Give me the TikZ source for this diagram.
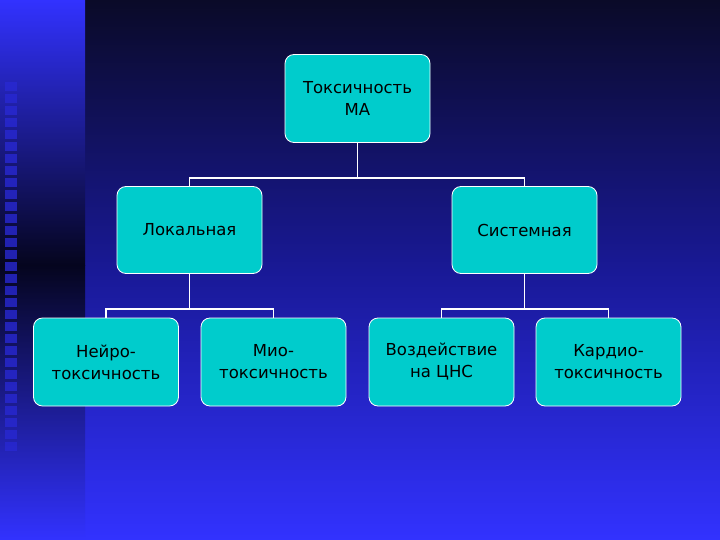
\documentclass[tikz,border=0pt]{standalone}
\usepackage{fontspec}
\setmainfont{DejaVu Sans}
\definecolor{boxc}{RGB}{0,204,204}
\definecolor{bdark}{RGB}{10,10,40}
\definecolor{bmid}{RGB}{25,25,150}
\definecolor{bbright}{RGB}{50,50,255}
\definecolor{bblack}{RGB}{5,5,30}
\definecolor{sq}{RGB}{40,40,210}
\begin{document}
\begin{tikzpicture}[x=1pt,y=-1pt,
 box/.style={draw=white,line width=0.8pt,fill=boxc,rounded corners=9pt,minimum width=145pt,minimum height=88pt,align=center,font=\fontsize{16.5}{22}\selectfont,text=black,inner sep=2pt},
 link/.style={draw=white,line width=1.5pt}]
\useasboundingbox (0,0) rectangle (720,540);
\shade[top color=bdark,bottom color=bbright,middle color=bmid] (85,0) rectangle (720,540);
\shade[top color=bbright,bottom color=bblack] (0,0) rectangle (85,265);
\shade[top color=bblack,bottom color=bbright] (0,265) rectangle (85,540);
\foreach \i in {0,...,30} \fill[sq,opacity=0.8] (5,{82+12*\i}) rectangle (17,{91+12*\i});
\node[box,minimum height=88pt] (t) at (357.5,98.5) {Токсичность\\MA};
\node[box,minimum height=87pt] (l) at (189.5,230) {Локальная};
\node[box,minimum height=87pt] (s) at (524.5,230) {Системная};
\node[box] (a) at (106,362) {Нейро-\\токсичность};
\node[box] (b) at (273.5,362) {Мио-\\токсичность};
\node[box] (c) at (441.5,362) {Воздействие\\на ЦНС};
\node[box] (d) at (608.5,362) {Кардио-\\токсичность};
\draw[link] (t.south) -- ++(0,35) -| (l.north);
\draw[link] (t.south) ++(0,35) -| (s.north);
\draw[link] (l.south) -- ++(0,35) -| (a.north);
\draw[link] (l.south) ++(0,35) -| (b.north);
\draw[link] (s.south) -- ++(0,35) -| (c.north);
\draw[link] (s.south) ++(0,35) -| (d.north);
\end{tikzpicture}
\end{document}
